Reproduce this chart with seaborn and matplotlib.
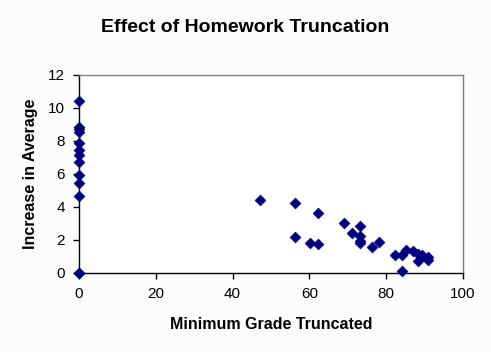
import matplotlib
matplotlib.use("Agg")
import matplotlib.pyplot as plt
import seaborn as sns
import pandas as pd

min_grade = [0, 0, 0, 0, 0, 0, 0, 0, 0, 0, 0, 0, 0,
             47.1, 56.2, 62.2, 56.2, 60.1, 62.2, 69.1, 71.0, 73.1, 73.1, 73.1, 73.1,
             76.2, 78.0, 82.2, 84.0, 84.0, 85.1, 87.1, 88.2, 88.2, 89.2, 91.0, 91.0]
increase = [10.44, 8.85, 8.7, 8.55, 7.9, 7.45, 7.15, 6.7, 5.9, 5.43, 4.66, 0.0, 0.0,
            4.4, 4.21, 3.6, 2.19, 1.78, 1.72, 3.02, 2.39, 2.82, 2.25, 1.94, 1.82,
            1.54, 1.86, 1.07, 1.05, 0.08, 1.38, 1.34, 1.12, 0.72, 1.05, 0.93, 0.8]

x_ticks = [0, 20, 40, 60, 80, 100]
y_ticks = [0, 2, 4, 6, 8, 10, 12]

df = pd.DataFrame({"x": min_grade, "y": increase})

sns.set_style("white")
plt.rcParams['font.family'] = ['Liberation Sans', 'DejaVu Sans']
plt.rcParams['text.color'] = 'black'
plt.rcParams['axes.labelcolor'] = 'black'
plt.rcParams['xtick.color'] = 'black'
plt.rcParams['ytick.color'] = 'black'

fig = plt.figure(figsize=(4.91, 3.52), dpi=100, facecolor="#fcfcfc")
ax = fig.add_axes([79/491, 1-272.7/352, (463-79)/491, (272.7-75)/352])
ax.set_facecolor("white")

sns.scatterplot(data=df, x="x", y="y", ax=ax, marker="D", s=30,
                color="#000080", edgecolor="#000080", linewidth=0.5,
                clip_on=False, zorder=5)

ax.set_xlim(0, 100)
ax.set_ylim(0, 12)
ax.set_xticks(x_ticks)
ax.set_yticks(y_ticks)
ax.tick_params(axis="both", direction="out", length=4, width=1, colors="black",
               labelsize=11, pad=6, bottom=True, left=True)
for side in ["left", "bottom"]:
    ax.spines[side].set_color("black")
    ax.spines[side].set_linewidth(1)
for side in ["top", "right"]:
    ax.spines[side].set_color("#808080")
    ax.spines[side].set_linewidth(1)

ax.set_xlabel("Minimum Grade Truncated", fontsize=11.5, fontweight="bold",
              labelpad=12, color="black")
ax.set_ylabel("Increase in Average", fontsize=11.5, fontweight="bold",
              labelpad=7, color="black")
fig.text(0.5, 1-27/352, "Effect of Homework Truncation", ha="center", va="center",
         fontsize=14, fontweight="bold", color="black")

fig.savefig("out.png", dpi=100, facecolor=fig.get_facecolor())
